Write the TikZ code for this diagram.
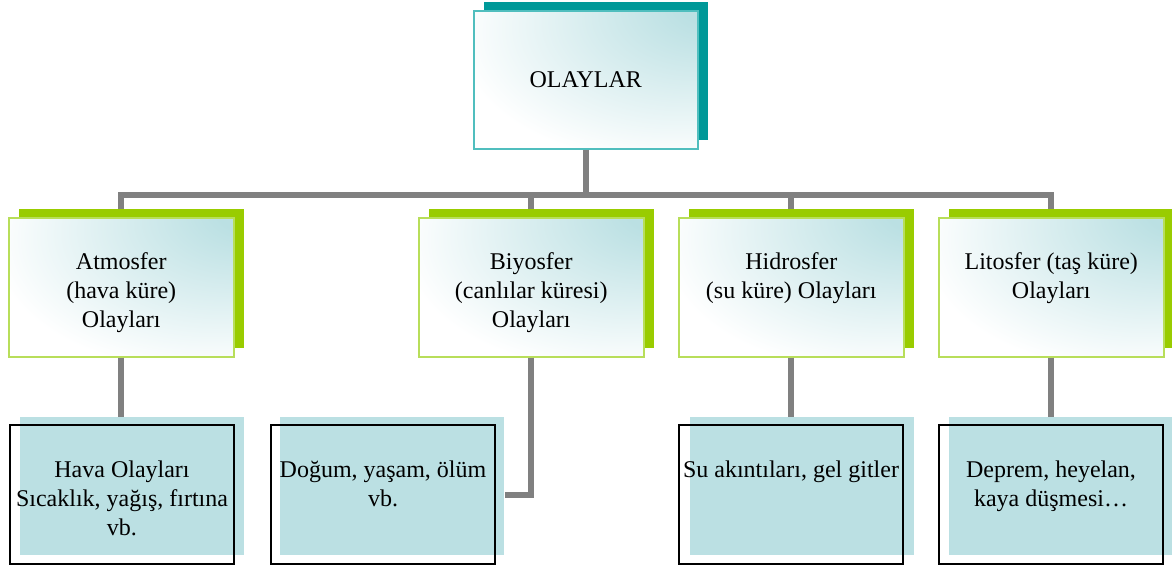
\documentclass[tikz,border=0pt]{standalone}
\usepackage{fontspec}
\setmainfont{Liberation Serif}
\usetikzlibrary{positioning}
\definecolor{tealshadow}{RGB}{0,153,153}
\definecolor{tealedge}{RGB}{80,190,190}
\definecolor{limeshadow}{RGB}{153,204,0}
\definecolor{limeedge}{RGB}{184,222,90}
\definecolor{paleteal}{RGB}{187,224,227}
\definecolor{linkgray}{RGB}{128,128,128}
\pgfdeclareradialshading{glow}{\pgfpoint{32bp}{30bp}}{color(0bp)=(paleteal); color(8bp)=(paleteal); color(46bp)=(white); color(100bp)=(white)}
\tikzset{
  box/.style={rectangle,inner sep=0pt,anchor=north west,minimum width=112pt,minimum height=69pt},
  topshadow/.style={box,fill=tealshadow},
  topbox/.style={box,draw=tealedge,line width=0.75pt,shading=glow,font=\fontsize{12}{14.5}\selectfont},
  subshadow/.style={box,fill=limeshadow,minimum width=112.5pt,minimum height=69.5pt},
  subbox/.style={box,draw=limeedge,line width=0.75pt,shading=glow,minimum width=112.5pt,minimum height=69.5pt},
  leafback/.style={box,fill=paleteal},
  leafbox/.style={box,draw=black,line width=1pt,minimum height=69.5pt},
  boxtext/.style={anchor=north,inner sep=0pt,align=center,font=\fontsize{12}{14.5}\selectfont},
  link/.style={draw=linkgray,line width=3pt}
}
\begin{document}
\begin{tikzpicture}[x=0.5pt,y=-0.5pt]
    \useasboundingbox (0,0) rectangle (1172,564);
    %% Top
    \node[topshadow] (top-s) at (484,2) {};
    \node[topbox] (top) at (473,10) {OLAYLAR};
    %% Spheres
    \node[subshadow] (atm-s) at (19,209) {};
    \node[subbox] (atm) at (8,217) {};
    \node[boxtext] (atm-t) at ([yshift=-17.5pt]atm.north) {Atmosfer\\(hava küre)\\Olayları};
    \node[subshadow] (bio-s) at (429,209) {};
    \node[subbox] (bio) at (418,217) {};
    \node[boxtext] (bio-t) at ([yshift=-17.5pt]bio.north) {Biyosfer\\(canlılar küresi)\\Olayları};
    \node[subshadow] (hid-s) at (689,209) {};
    \node[subbox] (hid) at (678,217) {};
    \node[boxtext] (hid-t) at ([yshift=-17.5pt]hid.north) {Hidrosfer\\(su küre) Olayları};
    \node[subshadow] (lit-s) at (949,209) {};
    \node[subbox] (lit) at (938,217) {};
    \node[boxtext] (lit-t) at ([yshift=-17.5pt]lit.north) {Litosfer (taş küre)\\Olayları};
    %% Examples
    \node[leafback] (hava-b) at (20,417) {};
    \node[leafbox] (hava) at (9,424) {};
    \node[boxtext] (hava-t) at ([yshift=-18pt]hava.north) {Hava Olayları\\Sıcaklık, yağış, fırtına\\vb.};
    \node[leafback] (dog-b) at (280,417) {};
    \node[leafbox] (dog) at (270,424) {};
    \node[boxtext] (dog-t) at ([yshift=-18pt]dog.north) {Doğum, yaşam, ölüm\\vb.};
    \node[leafback] (su-b) at (690,417) {};
    \node[leafbox] (su) at (678,424) {};
    \node[boxtext] (su-t) at ([yshift=-18pt]su.north) {Su akıntıları, gel gitler};
    \node[leafback] (dep-b) at (949,417) {};
    \node[leafbox] (dep) at (938,424) {};
    \node[boxtext] (dep-t) at ([yshift=-18pt]dep.north) {Deprem, heyelan,\\kaya düşmesi…};
    %% Links
    \coordinate (bus) at (0,195);
    \draw[link] (top.south) -- (top.south |- bus);
    \draw[link] (atm.north |- atm-s.north) -- (atm.north |- bus) -| (lit.north |- lit-s.north);
    \draw[link] (bio.north |- bio-s.north) -- (bio.north |- bus);
    \draw[link] (hid.north |- hid-s.north) -- (hid.north |- bus);
    \draw[link] (atm.south) -- (atm.south |- hava-b.north);
    \draw[link] (bio.south) |- (dog.east -| dog-b.east);
    \draw[link] (hid.south) -- (hid.south |- su-b.north);
    \draw[link] (lit.south) -- (lit.south |- dep-b.north);
\end{tikzpicture}
\end{document}
